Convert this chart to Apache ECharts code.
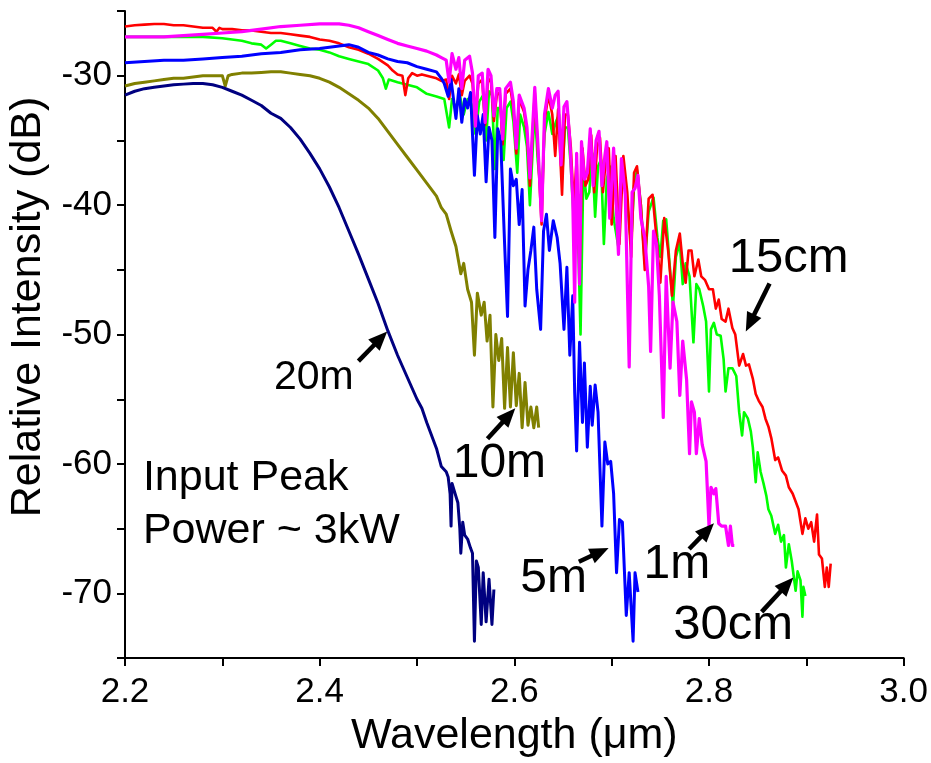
<!DOCTYPE html>
<html>
<head>
<meta charset="utf-8">
<script src="https://cdn.jsdelivr.net/npm/echarts@6.0.0/dist/echarts.min.js"></script>
<style>
  html, body { margin: 0; padding: 0; background: #fff; }
  #chart { width: 931px; height: 763px; }
</style>
</head>
<body>
<div id="chart"></div>
<script>
// Supercontinuum spectra for several fiber lengths: [wavelength (µm), relative intensity (dB)]
const spec20m = [
  [2.200,-31.5],[2.210,-31.2],[2.220,-31.0],[2.230,-30.9],[2.240,-30.8],[2.250,-30.7],[2.260,-30.65],
  [2.270,-30.6],[2.280,-30.6],[2.290,-30.7],[2.300,-30.9],[2.310,-31.2],[2.320,-31.5],[2.330,-31.9],
  [2.340,-32.3],[2.350,-32.9],[2.360,-33.3],[2.370,-34.0],[2.380,-34.9],[2.390,-36.0],[2.400,-37.2],
  [2.410,-38.6],[2.420,-40.2],[2.430,-42.0],[2.440,-43.8],[2.450,-45.7],[2.460,-47.6],[2.470,-49.7],
  [2.480,-51.6],[2.490,-53.3],[2.500,-55.0],[2.505,-55.7],[2.510,-56.8],[2.520,-58.8],[2.525,-60.2],
  [2.530,-60.6],[2.532,-61.0],[2.534,-62.3],[2.535,-64.8],[2.536,-61.5],[2.540,-62.5],[2.542,-63.0],
  [2.544,-65.0],[2.545,-66.9],[2.547,-64.5],[2.549,-65.5],[2.552,-65.8],[2.555,-66.5],[2.557,-66.9],
  [2.559,-73.7],[2.561,-67.5],[2.563,-68.0],[2.566,-72.4],[2.568,-68.4],[2.571,-72.2],[2.574,-68.9],
  [2.577,-72.4],[2.579,-69.7]
];

const spec10m = [
  [2.200,-30.8],[2.210,-30.6],[2.220,-30.5],[2.230,-30.4],[2.240,-30.3],[2.250,-30.2],[2.260,-30.2],
  [2.270,-30.1],[2.280,-30.0],[2.290,-30.0],[2.300,-30.0],[2.303,-30.8],[2.306,-30.0],[2.310,-29.9],
  [2.320,-29.8],[2.330,-29.8],[2.340,-29.75],[2.350,-29.7],[2.360,-29.7],[2.370,-29.8],[2.380,-29.9],
  [2.390,-30.0],[2.400,-30.2],[2.410,-30.5],[2.420,-30.9],[2.430,-31.4],[2.440,-31.9],[2.450,-32.5],
  [2.460,-33.3],[2.470,-34.3],[2.480,-35.3],[2.490,-36.3],[2.500,-37.3],[2.510,-38.3],[2.520,-39.3],
  [2.525,-40.2],[2.530,-40.7],[2.535,-42.0],[2.540,-43.2],[2.545,-45.3],[2.548,-44.5],[2.552,-46.5],
  [2.556,-47.5],[2.559,-51.6],[2.562,-46.8],[2.566,-48.5],[2.569,-47.5],[2.572,-50.5],[2.575,-48.5],
  [2.578,-55.6],[2.581,-50.0],[2.584,-52.0],[2.587,-50.3],[2.590,-55.7],[2.593,-51.0],[2.596,-55.6],
  [2.599,-51.4],[2.602,-55.5],[2.605,-53.0],[2.608,-57.2],[2.611,-53.7],[2.614,-57.0],[2.617,-55.6],
  [2.620,-57.2],[2.623,-55.6],[2.625,-57.2]
];

const spec5m = [
  [2.200,-29.0],[2.220,-28.9],[2.240,-28.8],[2.260,-28.8],[2.280,-28.7],[2.300,-28.6],[2.320,-28.5],
  [2.340,-28.3],[2.360,-28.2],[2.380,-28.0],[2.400,-27.9],[2.420,-27.7],[2.430,-27.6],[2.440,-27.8],
  [2.450,-28.2],[2.460,-28.4],[2.470,-28.7],[2.480,-28.9],[2.490,-29.0],[2.500,-29.3],[2.510,-29.5],
  [2.520,-29.7],[2.525,-30.2],[2.528,-30.6],[2.532,-31.6],[2.535,-30.3],[2.540,-33.3],[2.543,-31.0],
  [2.546,-33.6],[2.549,-31.8],[2.552,-32.5],[2.555,-31.3],[2.559,-37.7],[2.562,-33.1],[2.565,-34.5],
  [2.568,-33.0],[2.571,-38.2],[2.574,-34.0],[2.577,-35.0],[2.580,-42.5],[2.583,-34.1],[2.586,-35.0],
  [2.590,-43.0],[2.593,-48.6],[2.596,-37.2],[2.599,-38.5],[2.602,-38.0],[2.605,-41.5],[2.608,-38.8],
  [2.611,-47.8],[2.614,-45.0],[2.617,-43.5],[2.620,-41.7],[2.623,-46.5],[2.627,-49.6],[2.630,-42.0],
  [2.633,-40.7],[2.636,-43.5],[2.640,-41.2],[2.644,-42.5],[2.647,-44.5],[2.651,-49.6],[2.654,-44.8],
  [2.657,-51.6],[2.660,-47.0],[2.662,-54.5],[2.664,-59.0],[2.667,-50.6],[2.670,-56.8],[2.672,-52.2],
  [2.675,-58.7],[2.678,-54.0],[2.680,-57.0],[2.683,-53.9],[2.686,-56.0],[2.690,-64.8],[2.693,-58.3],
  [2.696,-60.0],[2.699,-59.8],[2.702,-62.3],[2.705,-68.4],[2.708,-64.3],[2.711,-64.5],[2.715,-71.7],
  [2.718,-68.4],[2.722,-73.7],[2.724,-68.4],[2.727,-69.9]
];

const spec1m = [
  [2.200,-27.0],[2.220,-27.0],[2.240,-27.0],[2.260,-26.9],[2.280,-26.8],[2.300,-26.7],[2.320,-26.6],
  [2.340,-26.4],[2.360,-26.2],[2.380,-26.1],[2.400,-26.0],[2.420,-26.0],[2.430,-26.1],[2.440,-26.3],
  [2.450,-26.6],[2.460,-26.9],[2.470,-27.2],[2.480,-27.5],[2.490,-27.7],[2.500,-27.9],[2.510,-28.1],
  [2.520,-28.4],[2.525,-28.6],[2.530,-28.8],[2.533,-30.5],[2.536,-28.3],[2.540,-29.5],[2.543,-28.6],
  [2.546,-31.0],[2.549,-28.8],[2.554,-28.5],[2.557,-29.8],[2.560,-33.9],[2.563,-30.0],[2.567,-29.8],
  [2.570,-33.6],[2.573,-29.5],[2.576,-30.0],[2.579,-33.1],[2.582,-31.0],[2.585,-31.0],[2.588,-34.9],
  [2.591,-31.0],[2.596,-30.5],[2.599,-32.0],[2.602,-35.6],[2.605,-31.5],[2.610,-32.5],[2.613,-34.0],
  [2.616,-37.9],[2.621,-30.9],[2.624,-35.0],[2.628,-41.2],[2.631,-33.0],[2.635,-31.0],[2.639,-32.5],
  [2.642,-31.5],[2.645,-31.2],[2.648,-36.9],[2.651,-32.4],[2.654,-32.0],[2.657,-35.0],[2.660,-39.5],
  [2.662,-47.5],[2.664,-36.0],[2.667,-46.1],[2.669,-35.1],[2.672,-38.0],[2.675,-37.5],[2.678,-34.1],
  [2.681,-38.5],[2.684,-35.0],[2.687,-34.3],[2.690,-38.5],[2.693,-36.2],[2.695,-35.1],[2.698,-41.0],
  [2.702,-35.6],[2.707,-43.8],[2.710,-36.4],[2.714,-39.2],[2.718,-52.5],[2.721,-39.0],[2.724,-38.7],
  [2.727,-37.7],[2.730,-41.0],[2.734,-42.5],[2.738,-46.3],[2.740,-51.3],[2.743,-42.0],[2.746,-43.0],
  [2.749,-47.0],[2.753,-56.4],[2.756,-45.5],[2.760,-52.6],[2.763,-47.5],[2.767,-49.0],[2.770,-54.7],
  [2.773,-50.5],[2.777,-53.5],[2.780,-59.2],[2.782,-55.2],[2.785,-56.0],[2.787,-59.2],[2.790,-56.5],
  [2.793,-58.5],[2.797,-59.8],[2.800,-64.8],[2.802,-61.8],[2.805,-62.3],[2.807,-61.9],[2.810,-64.6],
  [2.813,-64.8],[2.817,-64.8],[2.820,-66.3],[2.822,-64.8],[2.824,-66.3],[2.826,-66.3]
];

const spec15cm = [
  [2.200,-26.2],[2.210,-26.1],[2.220,-26.05],[2.230,-26.0],[2.240,-26.0],[2.250,-26.1],[2.260,-26.1],
  [2.270,-26.2],[2.280,-26.3],[2.290,-26.3],[2.294,-26.6],[2.297,-26.3],[2.300,-26.4],[2.310,-26.4],
  [2.320,-26.5],[2.330,-26.5],[2.340,-26.6],[2.350,-26.7],[2.360,-26.7],[2.370,-26.8],[2.380,-26.9],
  [2.390,-27.0],[2.400,-27.2],[2.410,-27.3],[2.420,-27.5],[2.430,-27.8],[2.440,-28.0],[2.450,-28.3],
  [2.460,-28.7],[2.470,-29.2],[2.475,-29.6],[2.480,-29.9],[2.485,-30.0],[2.488,-31.5],[2.491,-30.2],
  [2.495,-29.8],[2.500,-30.0],[2.505,-29.9],[2.510,-30.0],[2.515,-30.1],[2.520,-30.2],[2.525,-30.4],
  [2.530,-30.3],[2.533,-31.8],[2.536,-30.0],[2.540,-30.6],[2.543,-29.9],[2.546,-31.5],[2.549,-30.4],
  [2.554,-30.0],[2.557,-30.6],[2.560,-33.5],[2.563,-30.6],[2.567,-30.3],[2.570,-33.8],[2.573,-30.2],
  [2.576,-30.5],[2.579,-33.5],[2.582,-31.5],[2.585,-31.3],[2.588,-35.3],[2.591,-31.4],[2.596,-31.0],
  [2.599,-32.5],[2.602,-36.0],[2.605,-31.8],[2.610,-32.8],[2.613,-34.5],[2.616,-38.5],[2.621,-31.3],
  [2.624,-35.5],[2.628,-41.5],[2.631,-33.5],[2.635,-31.5],[2.639,-33.0],[2.642,-36.2],[2.645,-32.6],
  [2.649,-39.2],[2.652,-33.0],[2.655,-33.0],[2.658,-35.5],[2.661,-40.0],[2.664,-36.5],[2.667,-45.0],
  [2.670,-35.6],[2.673,-38.5],[2.676,-38.0],[2.679,-34.6],[2.682,-39.0],[2.685,-35.5],[2.688,-34.8],
  [2.691,-39.0],[2.694,-36.5],[2.697,-35.6],[2.700,-41.5],[2.704,-36.2],[2.708,-43.0],[2.712,-36.2],
  [2.716,-39.0],[2.720,-44.0],[2.723,-37.5],[2.726,-37.0],[2.730,-40.0],[2.734,-45.0],[2.738,-39.5],
  [2.742,-39.2],[2.746,-42.5],[2.750,-46.0],[2.754,-41.0],[2.758,-43.5],[2.762,-47.0],[2.766,-43.5],
  [2.770,-42.2],[2.773,-44.5],[2.776,-46.0],[2.779,-43.5],[2.782,-43.5],[2.785,-45.5],[2.789,-44.2],
  [2.792,-45.5],[2.796,-45.8],[2.800,-46.5],[2.804,-46.5],[2.807,-48.0],[2.810,-47.3],[2.813,-48.8],
  [2.817,-49.0],[2.820,-48.0],[2.824,-49.5],[2.827,-50.0],[2.831,-52.4],[2.835,-51.5],[2.838,-52.4],
  [2.841,-52.3],[2.845,-53.4],[2.848,-54.6],[2.851,-55.1],[2.855,-55.6],[2.858,-56.5],[2.861,-57.1],
  [2.864,-58.0],[2.868,-59.7],[2.871,-59.5],[2.875,-60.5],[2.879,-60.9],[2.882,-61.8],[2.886,-62.3],
  [2.889,-62.9],[2.892,-63.5],[2.896,-65.4],[2.899,-64.2],[2.902,-65.0],[2.905,-64.5],[2.908,-66.0],
  [2.911,-63.9],[2.913,-67.0],[2.916,-67.3],[2.919,-69.5],[2.921,-68.0],[2.923,-69.5],[2.925,-67.7]
];

const spec30cm = [
  [2.200,-27.0],[2.220,-27.0],[2.240,-27.0],[2.260,-27.0],[2.280,-27.0],[2.300,-27.1],[2.310,-27.2],
  [2.320,-27.3],[2.330,-27.5],[2.340,-27.6],[2.345,-27.9],[2.350,-27.6],[2.355,-27.3],[2.360,-27.3],
  [2.370,-27.5],[2.380,-27.7],[2.390,-27.9],[2.400,-28.0],[2.410,-28.2],[2.420,-28.5],[2.430,-28.7],
  [2.440,-28.9],[2.450,-29.1],[2.460,-29.6],[2.465,-30.2],[2.468,-31.0],[2.471,-30.3],[2.480,-30.5],
  [2.490,-30.7],[2.500,-30.9],[2.510,-31.4],[2.520,-31.6],[2.528,-31.8],[2.533,-34.0],[2.536,-31.8],
  [2.540,-32.5],[2.544,-31.5],[2.548,-33.0],[2.552,-31.8],[2.556,-32.2],[2.560,-34.5],[2.564,-32.0],
  [2.568,-31.5],[2.571,-35.0],[2.574,-31.2],[2.577,-31.5],[2.580,-37.2],[2.583,-32.5],[2.586,-32.5],
  [2.589,-36.5],[2.592,-32.5],[2.596,-32.0],[2.599,-33.5],[2.603,-37.5],[2.606,-33.0],[2.610,-34.0],
  [2.613,-35.5],[2.616,-40.0],[2.621,-32.5],[2.624,-36.5],[2.628,-39.5],[2.631,-34.5],[2.635,-32.8],
  [2.639,-34.5],[2.643,-33.5],[2.646,-33.0],[2.649,-38.0],[2.652,-34.0],[2.655,-34.0],[2.658,-37.0],
  [2.661,-41.0],[2.664,-38.0],[2.668,-50.0],[2.671,-37.0],[2.674,-39.5],[2.677,-39.0],[2.680,-36.0],
  [2.683,-40.9],[2.686,-37.0],[2.689,-36.5],[2.692,-43.0],[2.695,-38.0],[2.698,-37.0],[2.702,-41.0],
  [2.707,-43.3],[2.710,-38.0],[2.712,-36.8],[2.716,-40.0],[2.720,-43.0],[2.723,-38.5],[2.726,-37.3],
  [2.730,-40.0],[2.734,-44.5],[2.738,-40.5],[2.743,-39.4],[2.747,-42.5],[2.750,-44.0],[2.753,-41.2],
  [2.756,-41.1],[2.760,-45.0],[2.763,-47.8],[2.766,-44.0],[2.770,-42.9],[2.773,-46.1],[2.776,-44.5],
  [2.780,-45.5],[2.784,-50.6],[2.787,-46.1],[2.790,-46.5],[2.794,-47.8],[2.797,-49.0],[2.800,-54.4],
  [2.802,-49.6],[2.805,-49.1],[2.808,-50.0],[2.812,-50.1],[2.815,-51.9],[2.817,-54.4],[2.820,-52.6],
  [2.824,-52.6],[2.828,-53.2],[2.831,-56.0],[2.834,-57.8],[2.836,-56.0],[2.840,-56.5],[2.843,-57.5],
  [2.845,-58.7],[2.848,-61.4],[2.850,-59.1],[2.853,-60.6],[2.856,-61.5],[2.859,-62.5],[2.861,-63.5],
  [2.864,-64.0],[2.868,-65.4],[2.871,-64.7],[2.874,-66.0],[2.877,-65.5],[2.879,-68.0],[2.882,-66.2],
  [2.885,-67.5],[2.889,-69.8],[2.891,-68.3],[2.894,-69.0],[2.896,-71.8],[2.897,-69.5],[2.899,-70.2]
];

// Axis ranges and tick spacing
const xRange = [2.2, 3.0];
const yRange = [-75, -25];
const xStep = 0.1;
const yStep = 5;

// Fiber-length labels with arrows, in data coordinates: label anchor (left, middle) and arrow tail -> head
const lengthNotes = [
  { text: '20m',  at: [2.3531, -53.34], size: 41, tail: [2.4398, -52.05], head: [2.4694, -49.77] },
  { text: '10m',  at: [2.5367, -59.95], size: 48, tail: [2.5724, -58.05], head: [2.6010, -55.70] },
  { text: '5m',   at: [2.6061, -68.84], size: 48, tail: [2.6663, -67.55], head: [2.6969, -66.49] },
  { text: '1m',   at: [2.7327, -67.78], size: 48, tail: [2.7796, -66.57], head: [2.8051, -64.59] },
  { text: '30cm', at: [2.7633, -72.49], size: 49, tail: [2.8541, -71.43], head: [2.8867, -68.77] },
  { text: '15cm', at: [2.8204, -44.15], size: 49, tail: [2.8622, -46.05], head: [2.8378, -49.77] }
];
const powerNote = { lines: ['Input Peak', 'Power ~ 3kW'], at: [[2.2184, -61.09], [2.2184, -65.2]], size: 43 };

const FONT = '"Liberation Sans", Arial, Helvetica, sans-serif';

const chart = echarts.init(document.getElementById('chart'), null, { renderer: 'canvas' });

function spectrum(data, color, width) {
  return {
    type: 'line', data: data, showSymbol: false, symbol: 'none',
    lineStyle: { color: color, width: width, join: 'round' }, itemStyle: { color: color },
    smooth: false, animation: false, silent: true
  };
}

chart.setOption({
  animation: false,
  backgroundColor: '#ffffff',
  grid: { left: 125, right: 22, top: 11, bottom: 94, containLabel: false },
  xAxis: {
    type: 'value', min: xRange[0], max: xRange[1], interval: xStep,
    name: 'Wavelength (\u03bcm)', nameLocation: 'middle', nameGap: 52,
    nameTextStyle: { fontFamily: FONT, fontSize: 43, color: '#000' },
    axisLine: { show: true, lineStyle: { color: '#000', width: 2 } },
    axisTick: { show: true, inside: false, length: 8, lineStyle: { color: '#000', width: 2 } },
    axisLabel: {
      fontFamily: FONT, fontSize: 35, color: '#000', margin: 17,
      formatter: v => (Math.round(v * 10) % 2 === 0 ? v.toFixed(1) : '')
    },
    splitLine: { show: false }
  },
  yAxis: {
    type: 'value', min: yRange[0], max: yRange[1], interval: yStep,
    axisLine: { show: true, lineStyle: { color: '#000', width: 2 } },
    axisTick: { show: true, inside: false, length: 8, lineStyle: { color: '#000', width: 2 } },
    axisLabel: {
      fontFamily: FONT, fontSize: 35, color: '#000', margin: 13,
      formatter: v => (Math.round(v) % 10 === 0 ? String(v) : '')
    },
    splitLine: { show: false }
  },
  series: [
    spectrum(spec30cm, '#00ff00', 2.6),
    spectrum(spec15cm, '#ff0000', 2.6),
    spectrum(spec5m, '#0000ff', 3),
    spectrum(spec1m, '#ff00ff', 3.2),
    spectrum(spec10m, '#808000', 3),
    spectrum(spec20m, '#000080', 3)
  ]
});

// Annotations placed through the chart's own coordinate conversion
function px(pt) { return chart.convertToPixel({ gridIndex: 0 }, pt); }

function arrow(tailPt, headPt) {
  const t = px(tailPt), h = px(headPt);
  const dx = h[0] - t[0], dy = h[1] - t[1];
  const len = Math.hypot(dx, dy), ux = dx / len, uy = dy / len;
  const headLen = 19, headHalf = 8;
  const bx = h[0] - ux * headLen, by = h[1] - uy * headLen;
  return [
    { type: 'line', silent: true, z: 100,
      shape: { x1: t[0], y1: t[1], x2: bx + ux * 2, y2: by + uy * 2 },
      style: { stroke: '#000', lineWidth: 4.5 } },
    { type: 'polygon', silent: true, z: 100,
      shape: { points: [[h[0], h[1]], [bx - uy * headHalf, by + ux * headHalf], [bx + uy * headHalf, by - ux * headHalf]] },
      style: { fill: '#000' } }
  ];
}

const graphics = [];
lengthNotes.forEach(n => {
  const p = px(n.at);
  graphics.push({ type: 'text', silent: true, z: 100, x: p[0], y: p[1],
    style: { text: n.text, font: n.size + 'px ' + FONT, fill: '#000', textAlign: 'left', textVerticalAlign: 'middle' } });
  graphics.push(...arrow(n.tail, n.head));
});
powerNote.lines.forEach((line, i) => {
  const p = px(powerNote.at[i]);
  graphics.push({ type: 'text', silent: true, z: 100, x: p[0], y: p[1],
    style: { text: line, font: powerNote.size + 'px ' + FONT, fill: '#000', textAlign: 'left', textVerticalAlign: 'middle' } });
});
// Vertical axis title
graphics.push({ type: 'text', silent: true, z: 100, x: 28, y: 307, rotation: Math.PI / 2,
  style: { text: 'Relative Intensity (dB)', font: '43px ' + FONT, fill: '#000', textAlign: 'center', textVerticalAlign: 'middle' } });

chart.setOption({ graphic: graphics });
</script>
</body>
</html>
